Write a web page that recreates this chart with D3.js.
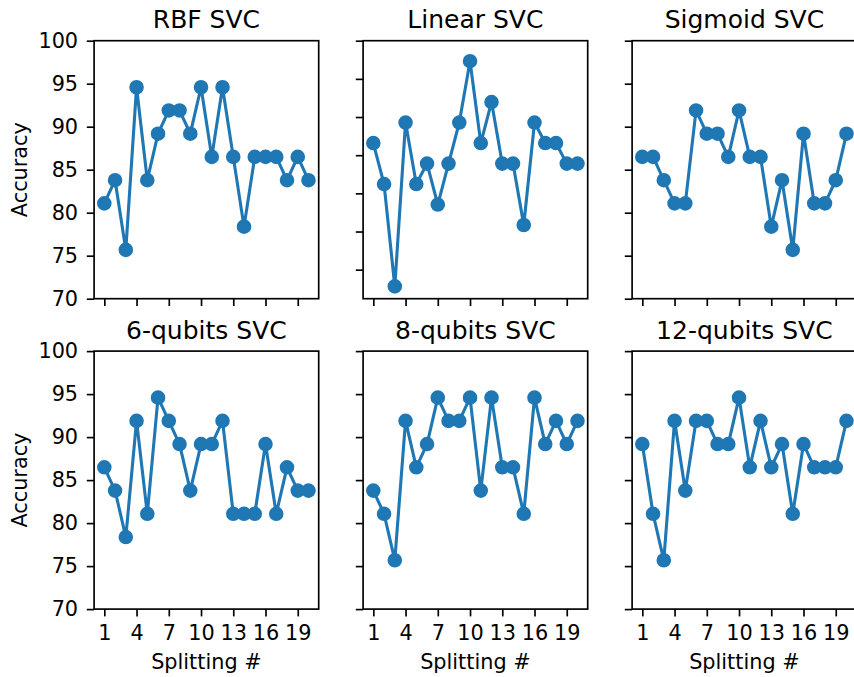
<!DOCTYPE html>
<html>
<head>
<meta charset="utf-8">
<script src="https://cdn.jsdelivr.net/npm/d3@7"></script>
<style>
  html, body { margin: 0; padding: 0; background: #fff; }
  svg { display: block; font-family: "DejaVu Sans", sans-serif; }
</style>
</head>
<body>
<svg id="chart" width="854" height="677"></svg>
<script>
// ---- data ----
const splits = d3.range(1, 21);
const titles = ["RBF SVC", "Linear SVC", "Sigmoid SVC", "6-qubits SVC", "8-qubits SVC", "12-qubits SVC"];
const rbf = [81.08, 83.78, 75.68, 94.59, 83.78, 89.19, 91.89, 91.89, 89.19, 94.59, 86.49, 94.59, 86.49, 78.38, 86.49, 86.49, 86.49, 83.78, 86.49, 83.78];
const linear = [88.10, 83.33, 71.43, 90.48, 83.33, 85.71, 80.95, 85.71, 90.48, 97.62, 88.10, 92.86, 85.71, 85.71, 78.57, 90.48, 88.10, 88.10, 85.71, 85.71];
const sigmoid = [86.49, 86.49, 83.78, 81.08, 81.08, 91.89, 89.19, 89.19, 86.49, 91.89, 86.49, 86.49, 78.38, 83.78, 75.68, 89.19, 81.08, 81.08, 83.78, 89.19];
const q6 = [86.49, 83.78, 78.38, 91.89, 81.08, 94.59, 91.89, 89.19, 83.78, 89.19, 89.19, 91.89, 81.08, 81.08, 81.08, 89.19, 81.08, 86.49, 83.78, 83.78];
const q8 = [83.78, 81.08, 75.68, 91.89, 86.49, 89.19, 94.59, 91.89, 91.89, 94.59, 83.78, 94.59, 86.49, 86.49, 81.08, 94.59, 89.19, 91.89, 89.19, 91.89];
const q12 = [89.19, 81.08, 75.68, 91.89, 83.78, 91.89, 91.89, 89.19, 89.19, 94.59, 86.49, 91.89, 86.49, 89.19, 81.08, 89.19, 86.49, 86.49, 86.49, 91.89];
const seriesList = [rbf, linear, sigmoid, q6, q8, q12];
const xTicks = [1, 4, 7, 10, 13, 16, 19];
const yTicks = [70, 75, 80, 85, 90, 95, 100];
const yDomain = [70, 100];
const yTickDomainLinear = [66.2, 100]; // the Linear panel's tick marks sit on a different scale
const xLabel = "Splitting #";
const yLabel = "Accuracy";

// ---- layout ----
const svg = d3.select("#chart");
const color = "#1f77b4";
const lefts = [94.1, 363.1, 632.1];
const tops = [40.7, 351.1];
const pw = 224.6, ph = 258;
const tickLen = 7.3, lw = 1.67;

const x = d3.scaleLinear().domain([0.05, 20.95]).range([0, pw]);
const y = d3.scaleLinear().domain(yDomain).range([ph, 0]);

seriesList.forEach((vals, i) => {
  const row = Math.floor(i / 3), col = i % 3;
  const g = svg.append("g").attr("transform", `translate(${lefts[col]},${tops[row]})`);

  // y axis
  const yt = (i === 1) ? d3.scaleLinear().domain(yTickDomainLinear).range([ph, 0]) : y;
  const yAxis = d3.axisLeft(yt).tickValues(yTicks).tickSize(tickLen).tickSizeOuter(0).tickPadding(8.7)
    .tickFormat(col === 0 ? d3.format("d") : () => "");
  const ya = g.append("g").call(yAxis);
  ya.select(".domain").remove();
  ya.selectAll("line").attr("stroke", "#000").attr("stroke-width", lw);
  ya.selectAll("text").attr("font-size", "20.8px").attr("fill", "#000").attr("font-family", "DejaVu Sans");

  // x axis
  const xAxis = d3.axisBottom(x).tickValues(xTicks).tickSize(tickLen).tickSizeOuter(0).tickPadding(8.5)
    .tickFormat(row === 1 ? d3.format("d") : () => "");
  const xa = g.append("g").attr("transform", `translate(0,${ph})`).call(xAxis);
  xa.select(".domain").remove();
  xa.selectAll("line").attr("stroke", "#000").attr("stroke-width", lw);
  xa.selectAll("text").attr("font-size", "20.8px").attr("fill", "#000").attr("font-family", "DejaVu Sans");

  // data line
  const pts = splits.map((s, k) => [s, vals[k]]);
  g.append("path").datum(pts)
    .attr("fill", "none").attr("stroke", color).attr("stroke-width", 3.1)
    .attr("stroke-linejoin", "round")
    .attr("d", d3.line().x(d => x(d[0])).y(d => y(d[1])));
  g.selectAll("circle.pt").data(pts).enter().append("circle")
    .attr("class", "pt")
    .attr("cx", d => x(d[0])).attr("cy", d => y(d[1]))
    .attr("r", 6.25).attr("fill", color).attr("stroke", color).attr("stroke-width", 2.08);

  // spines
  g.append("rect").attr("x", 0).attr("y", 0).attr("width", pw).attr("height", ph)
    .attr("fill", "none").attr("stroke", "#000").attr("stroke-width", lw);

  // title
  g.append("text").attr("x", pw / 2).attr("y", -12.5).attr("text-anchor", "middle")
    .attr("font-size", "25px").attr("fill", "#000").text(titles[i]);

  if (row === 1) {
    g.append("text").attr("x", pw / 2).attr("y", ph + 59.5).attr("text-anchor", "middle")
      .attr("font-size", "20.8px").attr("fill", "#000").text(xLabel);
  }
  if (col === 0) {
    g.append("text").attr("transform", `translate(${-67.6},${ph / 2}) rotate(-90)`)
      .attr("text-anchor", "middle").attr("font-size", "20.8px").attr("fill", "#000").text(yLabel);
  }
});
</script>
</body>
</html>
